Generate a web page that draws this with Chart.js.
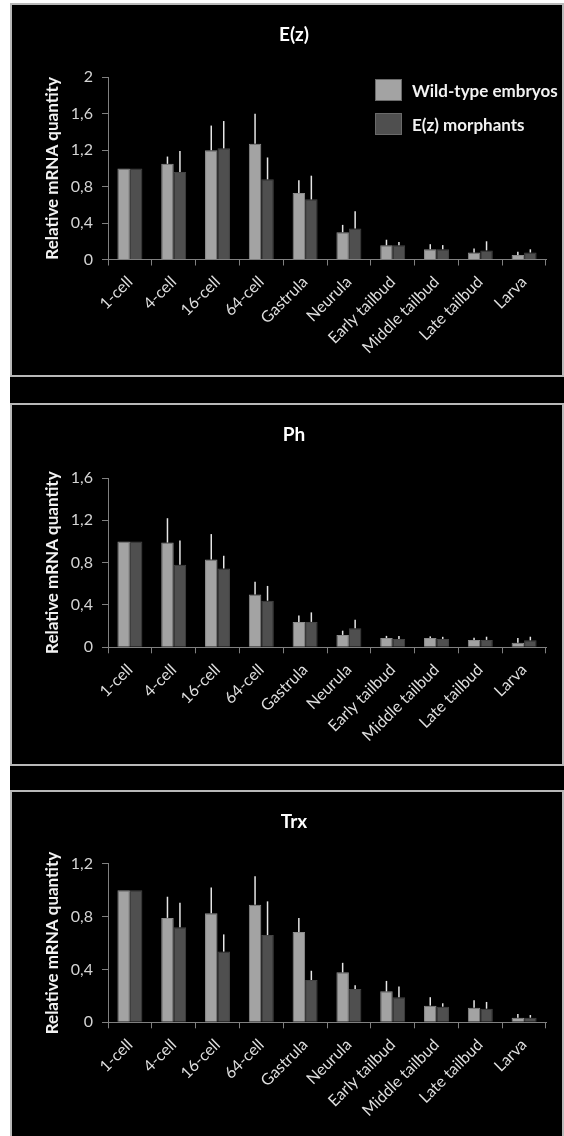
<!DOCTYPE html>
<html>
<head>
<meta charset="utf-8">
<script src="https://cdn.jsdelivr.net/npm/chart.js@4/dist/chart.umd.min.js"></script>
<style>
  body { margin: 0; width: 564px; height: 1136px; overflow: hidden; position: relative; background: #fff; }
  #bg { position: absolute; left: 10px; top: 3px; width: 554px; height: 1133px; background: #000; }
  .panel { position: absolute; left: 10px; width: 550px; border: 2px solid #b8b8b8; background: #000; overflow: hidden; }
  .panel canvas { display: block; }
</style>
</head>
<body>
<div id="bg"></div>
<div class="panel" style="top:3px;height:370px"><canvas id="ez" width="550" height="370"></canvas></div>
<div class="panel" style="top:403px;height:359px"><canvas id="ph" width="550" height="359"></canvas></div>
<div class="panel" style="top:790px;height:359px;border-bottom:none"><canvas id="trx" width="550" height="359"></canvas></div>
<script>
// categories
var stages = ['1-cell', '4-cell', '16-cell', '64-cell', 'Gastrula', 'Neurula',
  'Early tailbud', 'Middle tailbud', 'Late tailbud', 'Larva'];
var seriesNames = ['Wild-type embryos', 'E(z) morphants'];

// E(z)
var ezWild = [1.0, 1.05, 1.20, 1.27, 0.73, 0.30, 0.157, 0.113, 0.077, 0.05];
var ezWildErr = [0, 0.08, 0.27, 0.33, 0.14, 0.08, 0.06, 0.055, 0.045, 0.035];
var ezMorph = [1.0, 0.96, 1.22, 0.88, 0.66, 0.34, 0.157, 0.113, 0.10, 0.077];
var ezMorphErr = [0, 0.23, 0.30, 0.24, 0.26, 0.19, 0.035, 0.045, 0.10, 0.035];
var ezTicks = ['0', '0,4', '0,8', '1,2', '1,6', '2'];

// Ph
var phWild = [1.0, 0.99, 0.83, 0.50, 0.24, 0.117, 0.088, 0.088, 0.07, 0.044];
var phWildErr = [0, 0.23, 0.24, 0.12, 0.06, 0.04, 0.02, 0.015, 0.02, 0.044];
var phMorph = [1.0, 0.78, 0.745, 0.44, 0.24, 0.18, 0.079, 0.079, 0.07, 0.066];
var phMorphErr = [0, 0.23, 0.12, 0.14, 0.09, 0.08, 0.028, 0.02, 0.03, 0.034];
var phTicks = ['0', '0,4', '0,8', '1,2', '1,6'];

// Trx
var trxWild = [1.0, 0.79, 0.825, 0.89, 0.683, 0.378, 0.234, 0.126, 0.111, 0.035];
var trxWildErr = [0, 0.16, 0.195, 0.215, 0.107, 0.072, 0.079, 0.064, 0.055, 0.028];
var trxMorph = [1.0, 0.72, 0.535, 0.66, 0.32, 0.252, 0.19, 0.118, 0.103, 0.035];
var trxMorphErr = [0, 0.185, 0.13, 0.255, 0.07, 0.028, 0.08, 0.026, 0.051, 0.02];
var trxTicks = ['0', '0,4', '0,8', '1,2'];

var lightGray = '#a3a3a3';
var darkGray = '#4f4f4f';
var axisGray = '#808080';

Chart.defaults.font.family = 'Lato, "Open Sans", sans-serif';

// vertical error lines, upwards only, no caps
var errorBars = {
  id: 'errorBars',
  afterDatasetsDraw: function (chart) {
    var ctx = chart.ctx, y = chart.scales.y;
    chart.data.datasets.forEach(function (ds, i) {
      chart.getDatasetMeta(i).data.forEach(function (bar, j) {
        var e = ds.errors[j];
        if (!e) return;
        ctx.save();
        ctx.strokeStyle = '#e6e6e6';
        ctx.lineWidth = 1.5;
        ctx.beginPath();
        ctx.moveTo(bar.x, bar.y);
        ctx.lineTo(bar.x, y.getPixelForValue(ds.data[j] + e));
        ctx.stroke();
        ctx.restore();
      });
    });
  }
};

// legend drawn inside the plot, top right (first panel only)
var boxLegend = {
  id: 'boxLegend',
  afterDraw: function (chart, args, opts) {
    if (!opts.show) return;
    var ctx = chart.ctx;
    ctx.save();
    chart.data.datasets.forEach(function (ds, i) {
      var top = opts.y + i * 34;
      ctx.fillStyle = ds.backgroundColor;
      ctx.fillRect(opts.x, top, 27, 22);
      ctx.strokeStyle = '#6a6a6a';
      ctx.lineWidth = 1;
      ctx.strokeRect(opts.x + 0.5, top + 0.5, 26, 21);
      ctx.fillStyle = '#f2f2f2';
      ctx.font = 'bold 17px Lato, "Open Sans", sans-serif';
      ctx.textBaseline = 'middle';
      ctx.textAlign = 'left';
      ctx.fillText(ds.label, opts.x + 37, top + 13);
    });
    ctx.restore();
  }
};

function makeChart(id, title, wild, wildErr, morph, morphErr, ticks, yMax, geom) {
  return new Chart(document.getElementById(id), {
    type: 'bar',
    data: {
      labels: stages,
      datasets: [
        { label: seriesNames[0], data: wild, errors: wildErr, backgroundColor: lightGray,
          borderColor: '#8c8c8c', borderWidth: 1, categoryPercentage: 0.57, barPercentage: 1 },
        { label: seriesNames[1], data: morph, errors: morphErr, backgroundColor: darkGray,
          borderColor: '#444444', borderWidth: 1, categoryPercentage: 0.57, barPercentage: 1 }
      ]
    },
    plugins: [errorBars, boxLegend],
    options: {
      responsive: false,
      animation: false,
      layout: { padding: { left: 30, right: 16, top: 0, bottom: 0 } },
      plugins: {
        legend: { display: false },
        tooltip: { enabled: false },
        title: {
          display: true, text: title, color: '#ffffff',
          font: { size: 19, weight: 'bold' },
          padding: { top: 18.6, bottom: geom.top - 41.4 }
        },
        boxLegend: { show: geom.legend, x: 363, y: 74 }
      },
      scales: {
        x: {
          grid: { display: true, drawOnChartArea: false, drawTicks: true, tickLength: 6, color: axisGray, offset: true },
          border: { display: true, color: axisGray, width: 1 },
          ticks: { color: '#dedede', font: { size: 16 }, minRotation: 45, maxRotation: 45, autoSkip: false, padding: 7 },
          afterFit: function (s) { s.height = geom.xh; }
        },
        y: {
          min: 0, max: yMax,
          grid: { display: true, drawOnChartArea: false, drawTicks: true, tickLength: 6, color: axisGray },
          border: { display: true, color: axisGray, width: 1 },
          ticks: {
            stepSize: 0.4, color: '#d4d4d4', font: { size: 16 }, padding: 9,
            callback: function (v, i) { return ticks[i]; }
          },
          title: {
            display: true, text: 'Relative mRNA quantity', color: '#f2f2f2',
            font: { size: 17, weight: 'bold' }, padding: { top: 0, bottom: 0 }
          },
          afterFit: function (s) { s.width = 66; }
        }
      }
    }
  });
}

makeChart('ez', 'E(z)', ezWild, ezWildErr, ezMorph, ezMorphErr, ezTicks, 2,
  { top: 72.3, xh: 115.5, legend: true });
makeChart('ph', 'Ph', phWild, phWildErr, phMorph, phMorphErr, phTicks, 1.6,
  { top: 73, xh: 116.7, legend: false });
makeChart('trx', 'Trx', trxWild, trxWildErr, trxMorph, trxMorphErr, trxTicks, 1.2,
  { top: 71.7, xh: 128.7, legend: false });
</script>
</body>
</html>
